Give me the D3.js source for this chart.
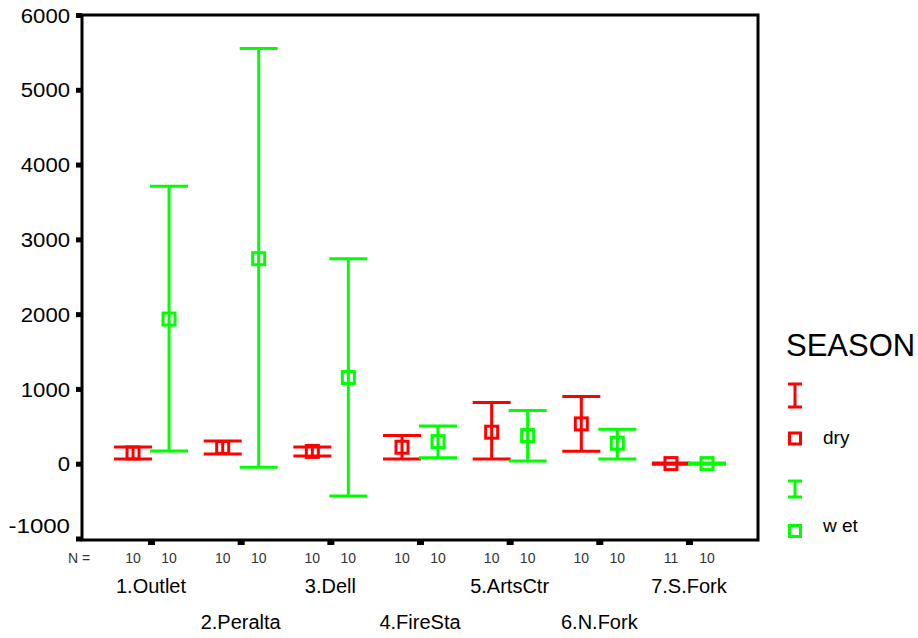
<!DOCTYPE html>
<html>
<head>
<meta charset="utf-8">
<script src="https://cdn.jsdelivr.net/npm/d3@7"></script>
<style>
  body { margin: 0; background: #fff; }
  text { font-family: "Liberation Sans", Arial, sans-serif; }
</style>
</head>
<body>
<div id="chart"></div>
<script>
// sites along x, two rows of labels (odd on top, even below)
const SITES = ['1.Outlet', '2.Peralta', '3.Dell', '4.FireSta', '5.ArtsCtr', '6.N.Fork', '7.S.Fork'];

// mean and error bar ends
const DRY_MEAN = [150, 224, 171, 227, 428, 539, 8];
const DRY_LOW  = [71, 138, 111, 71, 71, 174, 0];
const DRY_HIGH = [231, 311, 231, 383, 825, 905, 16];
const WET_MEAN = [1941, 2748, 1159, 302, 383, 281, 8];
const WET_LOW  = [178, -40, -424, 88, 44, 71, 0];
const WET_HIGH = [3716, 5559, 2748, 511, 717, 468, 16];

const DRY_N = [10, 10, 10, 10, 10, 10, 11];
const WET_N = [10, 10, 10, 10, 10, 10, 10];

const Y_TICKS = [-1000, 0, 1000, 2000, 3000, 4000, 5000, 6000];

const W = 918, H = 638;
const PLOT = { left: 82, right: 758, top: 15, bottom: 540 };

const svg = d3.select('#chart')
    .append('svg')
    .attr('width', W)
    .attr('height', H);

const x = d3.scalePoint()
    .domain(SITES)
    .range([PLOT.left, PLOT.right])
    .padding(0.77);

const y = d3.scaleLinear()
    .domain([-1000, 6000])
    .range([539, 15.5]);

const seasons = [
    { name: 'dry', color: '#ff0000', off: -18, mean: DRY_MEAN, lo: DRY_LOW, hi: DRY_HIGH, n: DRY_N },
    { name: 'wet', color: '#00ff00', off: 18, mean: WET_MEAN, lo: WET_LOW, hi: WET_HIGH, n: WET_N }
];

// frame
svg.append('rect')
    .attr('x', PLOT.left)
    .attr('y', PLOT.top)
    .attr('width', PLOT.right - PLOT.left)
    .attr('height', PLOT.bottom - PLOT.top)
    .attr('fill', 'none')
    .attr('stroke', '#000')
    .attr('stroke-width', 3);

// y ticks as little stubs on the left
const yAxis = svg.append('g');
yAxis.selectAll('rect')
    .data(Y_TICKS)
    .enter().append('rect')
    .attr('x', PLOT.left - 6)
    .attr('y', d => y(d) - 2.5)
    .attr('width', 6)
    .attr('height', 5)
    .attr('fill', '#000');

yAxis.selectAll('text')
    .data(Y_TICKS)
    .enter().append('text')
    .attr('x', 70)
    .attr('y', d => d === -1000 ? y(d) - 13 : y(d))
    .attr('dy', '0.36em')
    .attr('text-anchor', 'end')
    .attr('font-size', 20)
    .attr('textLength', d => String(d).length * 12.3)
    .attr('lengthAdjust', 'spacingAndGlyphs')
    .text(d => d);

// x ticks under the frame at each site
svg.append('g').selectAll('rect')
    .data(SITES)
    .enter().append('rect')
    .attr('x', d => x(d) - 3)
    .attr('y', PLOT.bottom)
    .attr('width', 7)
    .attr('height', 5)
    .attr('fill', '#000');

// N row
svg.append('text')
    .attr('x', 68)
    .attr('y', 558)
    .attr('dy', '0.36em')
    .attr('font-size', 14)
    .attr('fill', '#333')
    .text('N =');

seasons.forEach(s => {
    svg.append('g').selectAll('text')
        .data(SITES)
        .enter().append('text')
        .attr('x', d => x(d) + s.off)
        .attr('y', 558)
        .attr('dy', '0.36em')
        .attr('text-anchor', 'middle')
        .attr('font-size', 14)
        .attr('fill', '#333')
        .text((d, i) => s.n[i]);
});

// site labels, alternating rows
svg.append('g').selectAll('text')
    .data(SITES)
    .enter().append('text')
    .attr('x', d => x(d))
    .attr('y', (d, i) => i % 2 === 0 ? 586 : 622)
    .attr('dy', '0.36em')
    .attr('text-anchor', 'middle')
    .attr('font-size', 20)
    .text(d => d);

// error bars
const CAP = 19, SQ = 12;
seasons.forEach(s => {
    const g = svg.append('g')
        .attr('stroke', s.color)
        .attr('stroke-width', 3)
        .attr('fill', 'none');

    const bars = g.selectAll('g')
        .data(SITES)
        .enter().append('g')
        .attr('transform', d => `translate(${x(d) + s.off},0)`);

    bars.append('line')
        .attr('y1', (d, i) => y(s.lo[i]))
        .attr('y2', (d, i) => y(s.hi[i]));

    bars.append('line')
        .attr('x1', -CAP).attr('x2', CAP)
        .attr('y1', (d, i) => y(s.hi[i]))
        .attr('y2', (d, i) => y(s.hi[i]));

    bars.append('line')
        .attr('x1', -CAP).attr('x2', CAP)
        .attr('y1', (d, i) => y(s.lo[i]))
        .attr('y2', (d, i) => y(s.lo[i]));

    bars.append('rect')
        .attr('x', -SQ / 2)
        .attr('y', (d, i) => y(s.mean[i]) - SQ / 2)
        .attr('width', SQ)
        .attr('height', SQ);
});

// legend
const legend = svg.append('g');
legend.append('text')
    .attr('x', 786)
    .attr('y', 345)
    .attr('dy', '0.36em')
    .attr('font-size', 31)
    .text('SEASON');

const LEG = [
    { color: '#ff0000', label: 'dry', iTop: 384, iBot: 407, sq: 438.5, ty: 437 },
    { color: '#00ff00', label: 'w et', iTop: 481, iBot: 497, sq: 531, ty: 525 }
];
LEG.forEach(l => {
    const g = legend.append('g')
        .attr('stroke', l.color)
        .attr('stroke-width', 3)
        .attr('fill', 'none');
    g.append('line').attr('x1', 795).attr('x2', 795).attr('y1', l.iTop).attr('y2', l.iBot);
    g.append('line').attr('x1', 788).attr('x2', 802).attr('y1', l.iTop).attr('y2', l.iTop);
    g.append('line').attr('x1', 788).attr('x2', 802).attr('y1', l.iBot).attr('y2', l.iBot);
    g.append('rect').attr('x', 789.5).attr('y', l.sq - 5.5).attr('width', 11).attr('height', 11);
    legend.append('text')
        .attr('x', 823)
        .attr('y', l.ty)
        .attr('dy', '0.36em')
        .attr('font-size', 19)
        .text(l.label);
});
</script>
</body>
</html>
